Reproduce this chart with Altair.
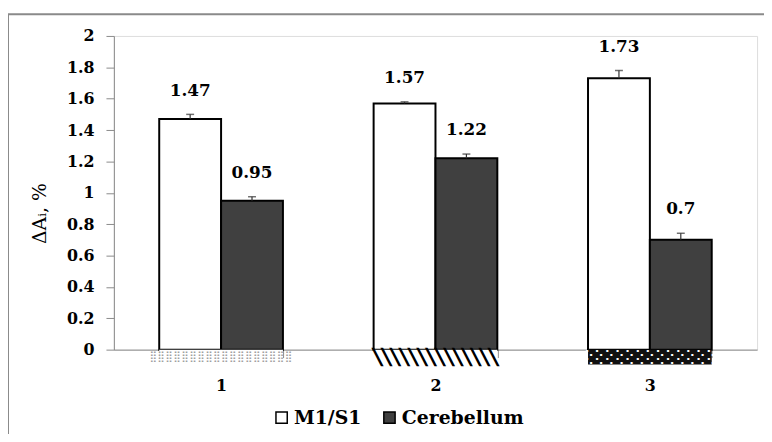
import altair as alt
import pandas as pd

categories = ["1", "2", "3"]
series = ["M1/S1", "Cerebellum"]
m1_values = [1.47, 1.57, 1.73]
cer_values = [0.95, 1.22, 0.70]
m1_err = [0.03, 0.01, 0.05]
cer_err = [0.025, 0.027, 0.042]
m1_labels = ["1.47", "1.57", "1.73"]
cer_labels = ["0.95", "1.22", "0.7"]
y_ticks = [0, 0.2, 0.4, 0.6, 0.8, 1, 1.2, 1.4, 1.6, 1.8, 2]

rows = []
for i, c in enumerate(categories):
    rows.append(dict(cat=c, series=series[0], value=m1_values[i],
                     top=m1_values[i] + m1_err[i], label=m1_labels[i]))
    rows.append(dict(cat=c, series=series[1], value=cer_values[i],
                     top=cer_values[i] + cer_err[i], label=cer_labels[i]))
df = pd.DataFrame(rows)
strip_df = pd.DataFrame({"cat": categories})
one = pd.DataFrame({"k": [0]})

W, H = 650, 317
SERIF = "DejaVu Serif"
AX = "#8a8a8a"

x_scale = alt.Scale(domain=categories, paddingInner=0.423, paddingOuter=0.2115)
x_axis = alt.Axis(title=None, labelAngle=0, tickBand="extent", tickSize=8,
                  domainColor=AX, tickColor=AX, labelPadding=20,
                  labelFont=SERIF, labelFontSize=16, labelFontWeight="bold",
                  labelColor="black", grid=False)
y_scale = alt.Scale(domain=[0, 2], nice=False)
y_axis = alt.Axis(values=y_ticks, format="~g", grid=False, domainColor=AX,
                  tickColor=AX, tickSize=8, labelPadding=12, labelOverlap=False,
                  labelFont=SERIF, labelFontSize=16, labelFontWeight="bold",
                  labelColor="black", title="ΔAᵢ, %", titleFont=SERIF,
                  titleFontSize=19, titleFontWeight="normal", titleColor="black",
                  titleX=-75, titleY=179, titleAngle=-90,
                  titleAlign="center", titleBaseline="middle")


def X():
    return alt.X("cat:N", scale=x_scale, axis=x_axis)


def Y(field):
    return alt.Y(field, scale=y_scale, axis=y_axis)


xo_enc = alt.XOffset("series:N", scale=alt.Scale(domain=series, paddingInner=0, paddingOuter=0))

bars = alt.Chart(df).mark_bar(stroke="black", strokeWidth=2).encode(
    x=X(), xOffset=xo_enc, y=Y("value:Q"),
    color=alt.Color("series:N", scale=alt.Scale(domain=series, range=["white", "#404040"]),
                    legend=alt.Legend(title=None, orient="none", legendX=160, legendY=376,
                                      direction="horizontal", symbolType="square",
                                      symbolSize=130, symbolStrokeColor="black",
                                      symbolStrokeWidth=1.5, symbolOpacity=1,
                                      labelFont=SERIF, labelFontSize=19,
                                      labelFontWeight="bold", labelColor="black",
                                      columnPadding=18, labelOffset=3)),
)

err = alt.Chart(df).mark_rule(color="#333333", strokeWidth=1.2).encode(
    x=X(), xOffset=xo_enc, y=Y("value:Q"), y2="top:Q")
caps = alt.Chart(df).mark_tick(color="#333333", size=8, thickness=1.5).encode(
    x=X(), xOffset=xo_enc, y=Y("top:Q"))
labels = alt.Chart(df).mark_text(dy=-24, font=SERIF, fontSize=17, fontWeight="bold",
                                 color="black", baseline="middle").encode(
    x=X(), xOffset=xo_enc, y=Y("top:Q"), text="label:N")


def strip(cat, fill, pattern, pcolor, font, size, sw):
    base = alt.Chart(strip_df).transform_filter(alt.datum.cat == cat)
    r = base.mark_rect(fill=fill, strokeWidth=0).encode(
        x=X(), y=alt.value(H), y2=alt.value(H + 15))
    t = base.mark_text(text=pattern, color=pcolor, font=font, fontSize=size,
                       baseline="middle", align="center", stroke=pcolor,
                       strokeWidth=sw).encode(
        x=X(), y=alt.value(H + 7.5))
    return [r, t]


layers = [bars]
layers += strip("1", "white", "⣿" * 18, "#a0a0a0", "DejaVu Sans", 11, 0)
layers += strip("2", "white", "╲" * 14, "black", "DejaVu Sans Mono", 15, 1.2)
layers += strip("3", "#111111", "⢕" * 13, "white", "DejaVu Sans", 14, 0)
layers += [err, caps, labels]

border_top = alt.Chart(one).mark_rule(color=AX, strokeWidth=2).encode(
    x=alt.value(-107), x2=alt.value(W + 20), y=alt.value(-22))
border_left = alt.Chart(one).mark_rule(color=AX, strokeWidth=2).encode(
    x=alt.value(-107), y=alt.value(-22), y2=alt.value(H + 100))
layers += [border_top, border_left]

chart = alt.layer(*layers).properties(
    width=W, height=H,
    autosize=alt.AutoSizeParams(type="none"),
    padding={"left": 107, "top": 26, "right": 7, "bottom": 83},
).configure_view(stroke=None).configure(background="white")

chart.save("out.html", embed_options={"renderer": "svg", "actions": False})
